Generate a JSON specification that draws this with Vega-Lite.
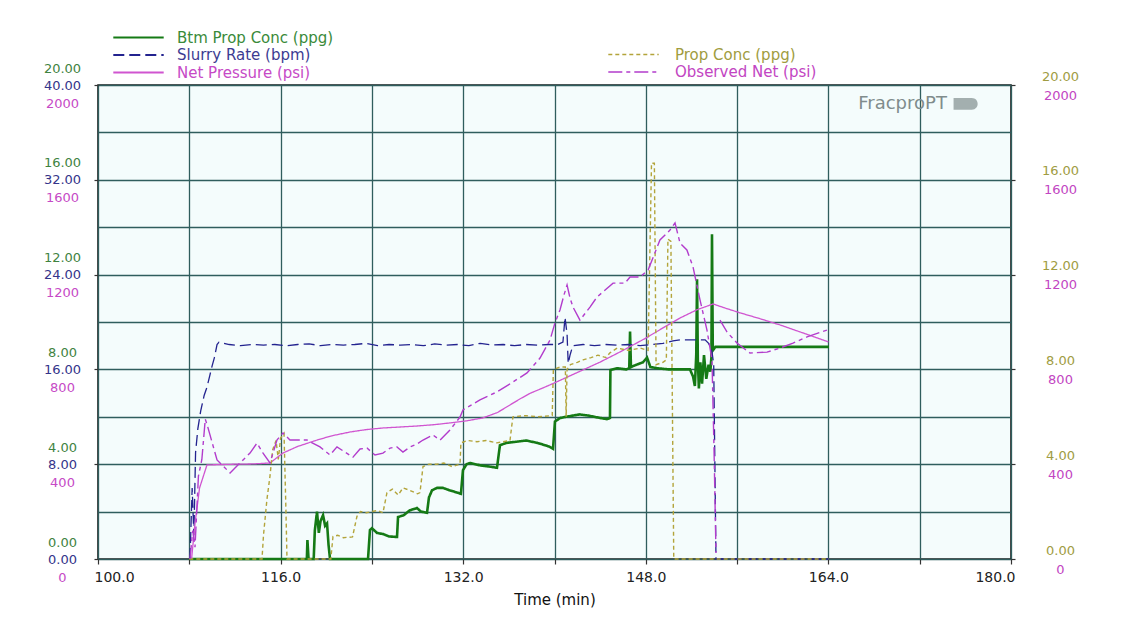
{
  "$schema": "https://vega.github.io/schema/vega-lite/v6.json",
  "width": 913,
  "height": 474,
  "autosize": {"type": "none"},
  "padding": {"left": 98, "top": 85, "right": 112, "bottom": 79},
  "background": "white",
  "config": {
    "font": "DejaVu Sans",
    "view": {"fill": "#f4fcfc", "stroke": "#1e1e1e", "strokeWidth": 1.6},
    "axis": {"domain": false, "labelFont": "DejaVu Sans", "gridColor": "#2f5d5d", "gridWidth": 1.3, "gridOpacity": 1, "tickColor": "#333333", "tickWidth": 1.2},
    "axisX": {
      "grid": true,
      "labelFlush": true,
      "labelFlushOffset": 4,
      "labelFontSize": 14,
      "labelColor": "#222222",
      "tickSize": 5,
      "labelPadding": 6,
      "titleFont": "DejaVu Sans",
      "titleFontSize": 15,
      "titleFontWeight": "normal",
      "titleColor": "#111111",
      "titlePadding": 8
    }
  },
  "datasets": {
    "btm": [
      {"t": 108.0, "ppg": 0}, {"t": 118.3, "ppg": 0}, {"t": 118.35, "ppg": 0.8}, {"t": 118.45, "ppg": 0}, {"t": 118.9, "ppg": 0},
      {"t": 119.0, "ppg": 1.2}, {"t": 119.19, "ppg": 2.0}, {"t": 119.35, "ppg": 1.1}, {"t": 119.5, "ppg": 1.6}, {"t": 119.72, "ppg": 1.85},
      {"t": 119.9, "ppg": 1.4}, {"t": 120.07, "ppg": 1.5}, {"t": 120.2, "ppg": 0.6}, {"t": 120.33, "ppg": 0}, {"t": 123.66, "ppg": 0},
      {"t": 123.83, "ppg": 1.22}, {"t": 124.0, "ppg": 1.3}, {"t": 124.45, "ppg": 1.1}, {"t": 125.0, "ppg": 1.05}, {"t": 125.5, "ppg": 0.95},
      {"t": 126.2, "ppg": 0.93}, {"t": 126.29, "ppg": 1.77}, {"t": 126.8, "ppg": 1.85}, {"t": 127.3, "ppg": 2.05}, {"t": 127.95, "ppg": 2.15},
      {"t": 128.3, "ppg": 2.0}, {"t": 128.83, "ppg": 1.95}, {"t": 129.0, "ppg": 2.6}, {"t": 129.27, "ppg": 2.9}, {"t": 129.7, "ppg": 3.0},
      {"t": 130.23, "ppg": 3.0}, {"t": 130.8, "ppg": 2.9}, {"t": 131.5, "ppg": 2.8}, {"t": 131.8, "ppg": 2.75}, {"t": 131.98, "ppg": 3.75},
      {"t": 132.3, "ppg": 4.0}, {"t": 132.6, "ppg": 4.05}, {"t": 133.5, "ppg": 3.95}, {"t": 134.3, "ppg": 3.9}, {"t": 134.96, "ppg": 3.85},
      {"t": 135.22, "ppg": 4.8}, {"t": 135.8, "ppg": 4.9}, {"t": 136.7, "ppg": 4.95}, {"t": 137.5, "ppg": 5.0}, {"t": 138.5, "ppg": 4.9},
      {"t": 139.5, "ppg": 4.75}, {"t": 139.87, "ppg": 4.65}, {"t": 140.04, "ppg": 5.8}, {"t": 140.5, "ppg": 5.95}, {"t": 141.0, "ppg": 6.0},
      {"t": 142.2, "ppg": 6.1}, {"t": 143.0, "ppg": 6.05}, {"t": 144.0, "ppg": 5.95}, {"t": 144.6, "ppg": 5.9}, {"t": 144.86, "ppg": 5.95},
      {"t": 144.9, "ppg": 7.97}, {"t": 145.5, "ppg": 8.05}, {"t": 146.3, "ppg": 8.0}, {"t": 146.55, "ppg": 8.05}, {"t": 146.62, "ppg": 9.6},
      {"t": 146.7, "ppg": 8.1}, {"t": 147.2, "ppg": 8.2}, {"t": 147.75, "ppg": 8.3}, {"t": 148.11, "ppg": 8.5}, {"t": 148.4, "ppg": 8.1},
      {"t": 149.0, "ppg": 8.05}, {"t": 150.0, "ppg": 8.0}, {"t": 151.0, "ppg": 8.0}, {"t": 151.87, "ppg": 8.0}, {"t": 152.14, "ppg": 7.7},
      {"t": 152.3, "ppg": 7.3}, {"t": 152.42, "ppg": 8.6}, {"t": 152.49, "ppg": 11.8}, {"t": 152.56, "ppg": 8.4}, {"t": 152.65, "ppg": 7.2},
      {"t": 152.78, "ppg": 8.3}, {"t": 152.93, "ppg": 7.4}, {"t": 153.1, "ppg": 8.6}, {"t": 153.3, "ppg": 7.6}, {"t": 153.5, "ppg": 8.2},
      {"t": 153.65, "ppg": 7.9}, {"t": 153.75, "ppg": 8.5}, {"t": 153.8, "ppg": 13.7}, {"t": 153.87, "ppg": 8.8}, {"t": 154.1, "ppg": 8.95},
      {"t": 164.05, "ppg": 8.95}
    ],
    "slurry": [
      {"t": 108.06, "bpm": 0}, {"t": 108.25, "bpm": 6.0}, {"t": 108.4, "bpm": 2.0}, {"t": 108.55, "bpm": 9.0}, {"t": 108.75, "bpm": 11.0},
      {"t": 109.0, "bpm": 12.5}, {"t": 109.3, "bpm": 13.8}, {"t": 109.55, "bpm": 14.5}, {"t": 109.8, "bpm": 15.5}, {"t": 110.0, "bpm": 16.3},
      {"t": 110.2, "bpm": 17.0}, {"t": 110.43, "bpm": 18.1}, {"t": 110.6, "bpm": 18.3}, {"t": 111.5, "bpm": 18.1}, {"t": 112.5, "bpm": 18.0},
      {"t": 113.5, "bpm": 18.1}, {"t": 114.5, "bpm": 18.05}, {"t": 115.5, "bpm": 18.1}, {"t": 116.5, "bpm": 18.0}, {"t": 117.5, "bpm": 18.1},
      {"t": 118.5, "bpm": 18.15}, {"t": 119.5, "bpm": 18.0}, {"t": 120.5, "bpm": 18.1}, {"t": 121.5, "bpm": 18.05}, {"t": 122.5, "bpm": 18.1},
      {"t": 123.5, "bpm": 18.2}, {"t": 124.5, "bpm": 18.0}, {"t": 125.5, "bpm": 18.1}, {"t": 126.5, "bpm": 18.05}, {"t": 127.5, "bpm": 18.1},
      {"t": 128.5, "bpm": 18.0}, {"t": 129.5, "bpm": 18.15}, {"t": 130.5, "bpm": 18.05}, {"t": 131.5, "bpm": 18.1}, {"t": 132.5, "bpm": 18.0},
      {"t": 133.5, "bpm": 18.2}, {"t": 134.5, "bpm": 18.05}, {"t": 135.5, "bpm": 18.1}, {"t": 136.5, "bpm": 18.0}, {"t": 137.5, "bpm": 18.1},
      {"t": 138.5, "bpm": 18.05}, {"t": 139.5, "bpm": 18.1}, {"t": 140.3, "bpm": 18.1}, {"t": 140.74, "bpm": 18.3}, {"t": 140.92, "bpm": 20.4},
      {"t": 141.1, "bpm": 19.0}, {"t": 141.2, "bpm": 16.5}, {"t": 141.36, "bpm": 17.2}, {"t": 141.6, "bpm": 18.0}, {"t": 142.5, "bpm": 18.1},
      {"t": 143.5, "bpm": 18.0}, {"t": 144.5, "bpm": 18.1}, {"t": 145.5, "bpm": 18.05}, {"t": 146.5, "bpm": 18.1}, {"t": 147.5, "bpm": 18.0},
      {"t": 148.5, "bpm": 18.1}, {"t": 149.5, "bpm": 18.2}, {"t": 150.38, "bpm": 18.4}, {"t": 151.0, "bpm": 18.5}, {"t": 152.0, "bpm": 18.5},
      {"t": 153.2, "bpm": 18.5}, {"t": 153.5, "bpm": 18.2}, {"t": 153.8, "bpm": 17.5}, {"t": 153.95, "bpm": 16.4}, {"t": 154.15, "bpm": 0},
      {"t": 164.05, "bpm": 0}
    ],
    "net": [
      {"t": 108.2, "psi": 0}, {"t": 108.5, "psi": 150}, {"t": 108.9, "psi": 300}, {"t": 109.55, "psi": 397}, {"t": 110.5, "psi": 398},
      {"t": 112.0, "psi": 400}, {"t": 113.5, "psi": 401}, {"t": 115.07, "psi": 405}, {"t": 116.2, "psi": 447}, {"t": 117.5, "psi": 475},
      {"t": 119.2, "psi": 502}, {"t": 120.5, "psi": 520}, {"t": 122.1, "psi": 536}, {"t": 123.5, "psi": 546}, {"t": 125.0, "psi": 553},
      {"t": 126.5, "psi": 557}, {"t": 127.9, "psi": 561}, {"t": 129.5, "psi": 567}, {"t": 130.8, "psi": 574}, {"t": 132.3, "psi": 583},
      {"t": 133.7, "psi": 595}, {"t": 135.0, "psi": 618}, {"t": 136.1, "psi": 650}, {"t": 137.0, "psi": 676}, {"t": 137.9, "psi": 700},
      {"t": 139.0, "psi": 722}, {"t": 140.0, "psi": 743}, {"t": 142.0, "psi": 787}, {"t": 144.0, "psi": 831}, {"t": 146.0, "psi": 880},
      {"t": 148.0, "psi": 932}, {"t": 149.5, "psi": 975}, {"t": 151.0, "psi": 1017}, {"t": 152.5, "psi": 1052}, {"t": 153.9, "psi": 1076},
      {"t": 155.0, "psi": 1058}, {"t": 156.3, "psi": 1038}, {"t": 158.0, "psi": 1014}, {"t": 159.8, "psi": 987}, {"t": 162.0, "psi": 950},
      {"t": 164.0, "psi": 916}
    ],
    "observed": [
      {"seg": 1, "t": 108.06, "psi": 0}, {"seg": 1, "t": 108.3, "psi": 120}, {"seg": 1, "t": 108.5, "psi": 50}, {"seg": 1, "t": 108.8, "psi": 350},
      {"seg": 1, "t": 109.1, "psi": 420}, {"seg": 1, "t": 109.4, "psi": 590}, {"seg": 1, "t": 109.6, "psi": 560}, {"seg": 1, "t": 110.43, "psi": 418},
      {"seg": 1, "t": 111.57, "psi": 363}, {"seg": 1, "t": 112.44, "psi": 405}, {"seg": 1, "t": 113.32, "psi": 447}, {"seg": 1, "t": 113.93, "psi": 489},
      {"seg": 1, "t": 114.46, "psi": 447}, {"seg": 1, "t": 115.07, "psi": 405}, {"seg": 1, "t": 115.68, "psi": 502}, {"seg": 1, "t": 116.21, "psi": 532},
      {"seg": 1, "t": 116.82, "psi": 502}, {"seg": 1, "t": 118.31, "psi": 502}, {"seg": 1, "t": 119.45, "psi": 473}, {"seg": 1, "t": 120.33, "psi": 439},
      {"seg": 1, "t": 120.94, "psi": 473}, {"seg": 1, "t": 121.64, "psi": 451}, {"seg": 1, "t": 122.34, "psi": 430}, {"seg": 1, "t": 122.96, "psi": 464},
      {"seg": 1, "t": 123.57, "psi": 468}, {"seg": 1, "t": 124.27, "psi": 439}, {"seg": 1, "t": 124.97, "psi": 447}, {"seg": 1, "t": 125.59, "psi": 468},
      {"seg": 1, "t": 126.2, "psi": 473}, {"seg": 1, "t": 126.72, "psi": 451}, {"seg": 1, "t": 127.34, "psi": 473}, {"seg": 1, "t": 127.95, "psi": 485},
      {"seg": 1, "t": 128.48, "psi": 502}, {"seg": 1, "t": 129.35, "psi": 523}, {"seg": 1, "t": 129.97, "psi": 502}, {"seg": 1, "t": 130.84, "psi": 544},
      {"seg": 1, "t": 131.72, "psi": 599}, {"seg": 1, "t": 131.98, "psi": 629}, {"seg": 1, "t": 133.47, "psi": 671}, {"seg": 1, "t": 134.96, "psi": 705},
      {"seg": 1, "t": 136.36, "psi": 747}, {"seg": 1, "t": 137.59, "psi": 785}, {"seg": 1, "t": 138.73, "psi": 848}, {"seg": 1, "t": 139.61, "psi": 924},
      {"seg": 1, "t": 140.04, "psi": 996}, {"seg": 1, "t": 140.48, "psi": 1051}, {"seg": 1, "t": 140.83, "psi": 1114}, {"seg": 1, "t": 141.1, "psi": 1156},
      {"seg": 1, "t": 141.36, "psi": 1101}, {"seg": 1, "t": 141.62, "psi": 1063}, {"seg": 1, "t": 142.23, "psi": 1008}, {"seg": 1, "t": 143.11, "psi": 1063},
      {"seg": 1, "t": 143.72, "psi": 1105}, {"seg": 1, "t": 145.13, "psi": 1164}, {"seg": 1, "t": 146.18, "psi": 1164}, {"seg": 1, "t": 146.62, "psi": 1190},
      {"seg": 1, "t": 147.49, "psi": 1190}, {"seg": 1, "t": 148.2, "psi": 1219}, {"seg": 1, "t": 149.24, "psi": 1346}, {"seg": 1, "t": 150.12, "psi": 1388},
      {"seg": 1, "t": 150.56, "psi": 1418}, {"seg": 1, "t": 151.0, "psi": 1333}, {"seg": 1, "t": 151.6, "psi": 1304}, {"seg": 1, "t": 152.14, "psi": 1232},
      {"seg": 1, "t": 152.75, "psi": 1093}, {"seg": 1, "t": 153.36, "psi": 966}, {"seg": 1, "t": 153.8, "psi": 840}, {"seg": 1, "t": 153.98, "psi": 460},
      {"seg": 1, "t": 154.15, "psi": 25},
      {"seg": 2, "t": 154.5, "psi": 1008}, {"seg": 2, "t": 155.11, "psi": 958}, {"seg": 2, "t": 155.99, "psi": 911}, {"seg": 2, "t": 157.13, "psi": 869},
      {"seg": 2, "t": 158.62, "psi": 873}, {"seg": 2, "t": 159.76, "psi": 890}, {"seg": 2, "t": 160.9, "psi": 911}, {"seg": 2, "t": 162.13, "psi": 937},
      {"seg": 2, "t": 163.88, "psi": 966}
    ],
    "prop": [
      {"t": 108.0, "ppg": 0}, {"t": 114.37, "ppg": 0}, {"t": 114.5, "ppg": 1.0}, {"t": 114.8, "ppg": 2.5}, {"t": 115.07, "ppg": 3.5},
      {"t": 115.3, "ppg": 4.6}, {"t": 115.6, "ppg": 5.0}, {"t": 115.8, "ppg": 4.2}, {"t": 116.0, "ppg": 5.1}, {"t": 116.3, "ppg": 5.3},
      {"t": 116.47, "ppg": 2.0}, {"t": 116.56, "ppg": 0}, {"t": 120.4, "ppg": 0}, {"t": 120.59, "ppg": 0.95}, {"t": 121.0, "ppg": 1.0},
      {"t": 121.5, "ppg": 0.9}, {"t": 122.3, "ppg": 0.93}, {"t": 122.69, "ppg": 1.8}, {"t": 123.0, "ppg": 2.0}, {"t": 123.5, "ppg": 1.95},
      {"t": 124.5, "ppg": 2.05}, {"t": 124.97, "ppg": 1.95}, {"t": 125.32, "ppg": 2.8}, {"t": 125.8, "ppg": 2.95}, {"t": 126.3, "ppg": 2.7},
      {"t": 126.72, "ppg": 3.0}, {"t": 127.3, "ppg": 2.9}, {"t": 128.0, "ppg": 2.75}, {"t": 128.21, "ppg": 2.8}, {"t": 128.48, "ppg": 3.9},
      {"t": 129.0, "ppg": 4.0}, {"t": 129.7, "ppg": 4.0}, {"t": 130.3, "ppg": 4.05}, {"t": 131.02, "ppg": 3.9}, {"t": 131.72, "ppg": 4.0},
      {"t": 131.8, "ppg": 4.9}, {"t": 132.4, "ppg": 5.0}, {"t": 133.2, "ppg": 4.95}, {"t": 134.0, "ppg": 5.0}, {"t": 134.96, "ppg": 4.9},
      {"t": 136.1, "ppg": 5.0}, {"t": 136.25, "ppg": 5.6}, {"t": 136.36, "ppg": 6.0}, {"t": 137.5, "ppg": 6.05}, {"t": 138.5, "ppg": 6.0},
      {"t": 139.8, "ppg": 6.05}, {"t": 139.9, "ppg": 8.0}, {"t": 140.5, "ppg": 8.1}, {"t": 140.95, "ppg": 8.1}, {"t": 141.02, "ppg": 6.0},
      {"t": 141.1, "ppg": 8.0}, {"t": 141.4, "ppg": 8.2}, {"t": 142.0, "ppg": 8.3}, {"t": 142.5, "ppg": 8.4}, {"t": 143.2, "ppg": 8.5},
      {"t": 143.8, "ppg": 8.6}, {"t": 144.5, "ppg": 8.5}, {"t": 144.86, "ppg": 8.7}, {"t": 145.5, "ppg": 8.9}, {"t": 146.5, "ppg": 8.8},
      {"t": 147.5, "ppg": 8.9}, {"t": 148.2, "ppg": 8.8}, {"t": 148.5, "ppg": 16.7}, {"t": 148.75, "ppg": 16.7}, {"t": 148.9, "ppg": 8.2},
      {"t": 149.5, "ppg": 8.3}, {"t": 149.8, "ppg": 8.4}, {"t": 149.94, "ppg": 13.5}, {"t": 150.2, "ppg": 13.4}, {"t": 150.45, "ppg": 0},
      {"t": 164.05, "ppg": 0}
    ],
    "logo": [
      {"t": 170.5, "level": 19.2, "label": "FracproPT"}
    ]
  },
  "layer": [
    {
      "resolve": {"scale": {"y": "independent"}},
      "layer": [
        {
          "data": {"name": "btm"},
          "mark": {"type": "line", "strokeWidth": 2.6},
          "encoding": {
            "x": {"field": "t", "type": "quantitative", "scale": {"domain": [100, 180], "nice": false, "zero": false}, "title": "Time (min)", "axis": {"values": [100, 108, 116, 124, 132, 140, 148, 156, 164, 172, 180], "labelExpr": "(datum.value - 100) % 16 === 0 ? format(datum.value, '.1f') : ''"}},
            "y": {
              "field": "ppg", "type": "quantitative",
              "scale": {"domain": [0, 20], "nice": false, "zero": true},
              "axis": {
                "orient": "left",
                "values": [0, 2, 4, 6, 8, 10, 12, 14, 16, 18, 20],
                "grid": true,
                "ticks": false,
                "tickSize": 0,
                "labelExpr": "datum.value % 4 === 0 ? format(datum.value, '.2f') : ''",
                "labelColor": "#3f833f",
                "labelFontSize": 13,
                "labelAlign": "center",
                "labelPadding": 36,
                "labelOffset": -17,
                "title": null
              }
            },
            "color": {
              "datum": "Btm Prop Conc (ppg)",
              "scale": {"domain": ["Btm Prop Conc (ppg)", "Slurry Rate (bpm)", "Net Pressure (psi)"], "range": ["#157a15", "#23238f", "#d055d0"]},
              "legend": {
                "orient": "none", "legendX": 33, "legendY": -55, "title": null, "padding": 0,
                "symbolType": "M-4.2,0H4.2", "symbolSize": 144, "symbolStrokeWidth": 1.8,
                "labelFont": "DejaVu Sans", "labelFontSize": 15, "labelOffset": 31, "rowPadding": 1.5,
                "encode": {"labels": {"update": {"fill": {"signal": "datum.value === 'Btm Prop Conc (ppg)' ? '#3a8a3a' : datum.value === 'Slurry Rate (bpm)' ? '#3c3c92' : '#c64ac6'"}}}}
              }
            },
            "strokeDash": {
              "datum": "Btm Prop Conc (ppg)",
              "scale": {"domain": ["Btm Prop Conc (ppg)", "Slurry Rate (bpm)", "Net Pressure (psi)"], "range": [[1, 0], [11, 5], [1, 0]]},
              "legend": {
                "orient": "none", "legendX": 33, "legendY": -55, "title": null, "padding": 0,
                "symbolType": "M-4.2,0H4.2", "symbolSize": 144, "symbolStrokeWidth": 1.8,
                "labelFont": "DejaVu Sans", "labelFontSize": 15, "labelOffset": 31, "rowPadding": 1.5
              }
            }
          }
        },
        {
          "data": {"name": "slurry"},
          "mark": {"type": "line", "strokeWidth": 1.3},
          "encoding": {
            "x": {"field": "t", "type": "quantitative", "scale": {"domain": [100, 180], "nice": false, "zero": false}, "title": "Time (min)", "axis": {"values": [100, 108, 116, 124, 132, 140, 148, 156, 164, 172, 180], "labelExpr": "(datum.value - 100) % 16 === 0 ? format(datum.value, '.1f') : ''"}},
            "y": {
              "field": "bpm", "type": "quantitative",
              "scale": {"domain": [0, 40], "nice": false, "zero": true},
              "axis": {
                "orient": "left",
                "values": [0, 8, 16, 24, 32, 40],
                "grid": false,
                "ticks": true,
                "tickSize": 4,
                "format": ".2f",
                "labelColor": "#34348a",
                "labelFontSize": 13,
                "labelAlign": "center",
                "labelPadding": 32,
                "labelOffset": 0,
                "title": null
              }
            },
            "color": {
              "datum": "Slurry Rate (bpm)",
              "scale": {"domain": ["Btm Prop Conc (ppg)", "Slurry Rate (bpm)", "Net Pressure (psi)"], "range": ["#157a15", "#23238f", "#d055d0"]}
            },
            "strokeDash": {
              "datum": "Slurry Rate (bpm)",
              "scale": {"domain": ["Btm Prop Conc (ppg)", "Slurry Rate (bpm)", "Net Pressure (psi)"], "range": [[1, 0], [11, 5], [1, 0]]}
            }
          }
        },
        {
          "data": {"name": "net"},
          "mark": {"type": "line", "strokeWidth": 1.3},
          "encoding": {
            "x": {"field": "t", "type": "quantitative", "scale": {"domain": [100, 180], "nice": false, "zero": false}, "title": "Time (min)", "axis": {"values": [100, 108, 116, 124, 132, 140, 148, 156, 164, 172, 180], "labelExpr": "(datum.value - 100) % 16 === 0 ? format(datum.value, '.1f') : ''"}},
            "y": {
              "field": "psi", "type": "quantitative",
              "scale": {"domain": [0, 2000], "nice": false, "zero": true},
              "axis": {
                "orient": "left",
                "values": [0, 400, 800, 1200, 1600, 2000],
                "grid": false,
                "ticks": false,
                "tickSize": 0,
                "format": "d",
                "labelColor": "#c64ac6",
                "labelFontSize": 13,
                "labelAlign": "center",
                "labelPadding": 36,
                "labelOffset": 18,
                "title": null
              }
            },
            "color": {
              "datum": "Net Pressure (psi)",
              "scale": {"domain": ["Btm Prop Conc (ppg)", "Slurry Rate (bpm)", "Net Pressure (psi)"], "range": ["#157a15", "#23238f", "#d055d0"]}
            },
            "strokeDash": {
              "datum": "Net Pressure (psi)",
              "scale": {"domain": ["Btm Prop Conc (ppg)", "Slurry Rate (bpm)", "Net Pressure (psi)"], "range": [[1, 0], [11, 5], [1, 0]]}
            }
          }
        }
      ]
    },
    {
      "resolve": {"scale": {"y": "independent"}},
      "layer": [
        {
          "data": {"name": "prop"},
          "mark": {"type": "line", "strokeWidth": 1.4},
          "encoding": {
            "x": {"field": "t", "type": "quantitative", "scale": {"domain": [100, 180], "nice": false, "zero": false}, "title": "Time (min)", "axis": {"values": [100, 108, 116, 124, 132, 140, 148, 156, 164, 172, 180], "labelExpr": "(datum.value - 100) % 16 === 0 ? format(datum.value, '.1f') : ''"}},
            "y": {
              "field": "ppg", "type": "quantitative",
              "scale": {"domain": [0, 20], "nice": false, "zero": true},
              "axis": {
                "orient": "right",
                "values": [0, 4, 8, 12, 16, 20],
                "grid": false,
                "ticks": true,
                "tickSize": 4,
                "format": ".2f",
                "labelColor": "#a09c42",
                "labelFontSize": 13,
                "labelAlign": "center",
                "labelPadding": 45,
                "labelOffset": -9,
                "title": null
              }
            },
            "color": {
              "datum": "Prop Conc (ppg)",
              "scale": {"domain": ["Prop Conc (ppg)", "Observed Net (psi)"], "range": ["#b3a43a", "#b23ccc"]},
              "legend": {
                "orient": "none", "legendX": 528, "legendY": -38, "title": null, "padding": 0,
                "symbolType": "M-4.2,0H4.2", "symbolSize": 144, "symbolStrokeWidth": 1.6,
                "labelFont": "DejaVu Sans", "labelFontSize": 15, "labelOffset": 34, "rowPadding": 1.5,
                "encode": {"labels": {"update": {"fill": {"signal": "datum.value === 'Prop Conc (ppg)' ? '#a09c40' : '#c245c2'"}}}}
              }
            },
            "strokeDash": {
              "datum": "Prop Conc (ppg)",
              "scale": {"domain": ["Prop Conc (ppg)", "Observed Net (psi)"], "range": [[4, 3], [14, 4, 4, 4]]},
              "legend": {
                "orient": "none", "legendX": 528, "legendY": -38, "title": null, "padding": 0,
                "symbolType": "M-4.2,0H4.2", "symbolSize": 144, "symbolStrokeWidth": 1.6,
                "labelFont": "DejaVu Sans", "labelFontSize": 15, "labelOffset": 34, "rowPadding": 1.5
              }
            }
          }
        },
        {
          "data": {"name": "observed"},
          "mark": {"type": "line", "strokeWidth": 1.4},
          "encoding": {
            "x": {"field": "t", "type": "quantitative", "scale": {"domain": [100, 180], "nice": false, "zero": false}, "title": "Time (min)", "axis": {"values": [100, 108, 116, 124, 132, 140, 148, 156, 164, 172, 180], "labelExpr": "(datum.value - 100) % 16 === 0 ? format(datum.value, '.1f') : ''"}},
            "y": {
              "field": "psi", "type": "quantitative",
              "scale": {"domain": [0, 2000], "nice": false, "zero": true},
              "axis": {
                "orient": "right",
                "values": [0, 400, 800, 1200, 1600, 2000],
                "grid": false,
                "ticks": false,
                "tickSize": 0,
                "format": "d",
                "labelColor": "#c245c2",
                "labelFontSize": 13,
                "labelAlign": "center",
                "labelPadding": 49,
                "labelOffset": 10,
                "title": null
              }
            },
            "detail": {"field": "seg", "type": "nominal"},
            "color": {
              "datum": "Observed Net (psi)",
              "scale": {"domain": ["Prop Conc (ppg)", "Observed Net (psi)"], "range": ["#b3a43a", "#b23ccc"]}
            },
            "strokeDash": {
              "datum": "Observed Net (psi)",
              "scale": {"domain": ["Prop Conc (ppg)", "Observed Net (psi)"], "range": [[4, 3], [14, 4, 4, 4]]}
            }
          }
        }
      ]
    },
    {
      "data": {"name": "logo"},
      "layer": [
        {
          "mark": {"type": "text", "font": "DejaVu Sans", "fontSize": 18, "align": "center", "baseline": "middle", "color": "#808c8c"},
          "encoding": {
            "x": {"field": "t", "type": "quantitative", "scale": {"domain": [100, 180], "nice": false, "zero": false}, "title": "Time (min)", "axis": {"values": [100, 108, 116, 124, 132, 140, 148, 156, 164, 172, 180], "labelExpr": "(datum.value - 100) % 16 === 0 ? format(datum.value, '.1f') : ''"}},
            "y": {"field": "level", "type": "quantitative", "scale": {"domain": [0, 20], "nice": false, "zero": true}, "axis": null},
            "text": {"field": "label"}
          }
        },
        {
          "mark": {"type": "point", "shape": "M-1,-0.45H0.4C1,-0.45 1,0.45 0.4,0.45H-1Z", "size": 676, "filled": true, "color": "#9aa6a6", "opacity": 0.9, "xOffset": 64},
          "encoding": {
            "x": {"field": "t", "type": "quantitative", "scale": {"domain": [100, 180], "nice": false, "zero": false}, "title": "Time (min)", "axis": {"values": [100, 108, 116, 124, 132, 140, 148, 156, 164, 172, 180], "labelExpr": "(datum.value - 100) % 16 === 0 ? format(datum.value, '.1f') : ''"}},
            "y": {"field": "level", "type": "quantitative", "scale": {"domain": [0, 20], "nice": false, "zero": true}, "axis": null}
          }
        }
      ]
    }
  ],
  "resolve": {"scale": {"y": "independent", "color": "independent", "strokeDash": "independent"}}
}
